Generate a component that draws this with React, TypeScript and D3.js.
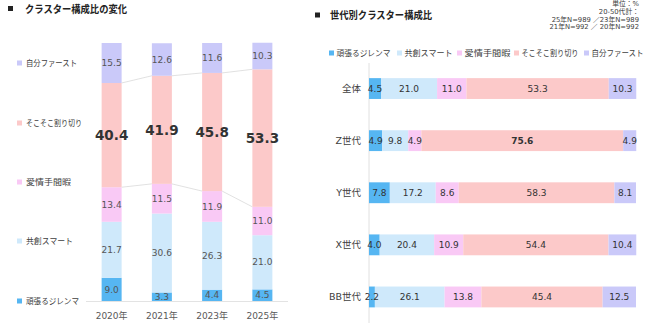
import React from 'react';
import * as d3 from 'd3';

// cluster order: bottom → top (left chart), left → right (right chart)
const clusters = ['頑張るジレンマ', '共創スマート', '愛情手間暇', 'そこそこ割り切り', '自分ファースト'];
const clusterColors = ['#56b6f2', '#cfe9fb', '#f9c9f5', '#fcc9c9', '#cac9f9'];

const years = ['2020年', '2021年', '2023年', '2025年'];
const yearValues = [
  [9.0, 21.7, 13.4, 40.4, 15.5],
  [3.3, 30.6, 11.5, 41.9, 12.6],
  [4.4, 26.3, 11.9, 45.8, 11.6],
  [4.5, 21.0, 11.0, 53.3, 10.3],
];

const generations = ['全体', 'Z世代', 'Y世代', 'X世代', 'BB世代'];
const generationValues = [
  [4.5, 21.0, 11.0, 53.3, 10.3],
  [4.9, 9.8, 4.9, 75.6, 4.9],
  [7.8, 17.2, 8.6, 58.3, 8.1],
  [4.0, 20.4, 10.9, 54.4, 10.4],
  [2.2, 26.1, 13.8, 45.4, 12.5],
];

const noteLines = ['単位：%', '20-50代計：', '25年N=989 ／23年N=989', '21年N=992 ／ 20年N=992'];

const numFont = 'Verdana, "DejaVu Sans", "Noto Sans CJK JP", sans-serif';
const jpFont = '"Noto Sans CJK JP", "Noto Sans", sans-serif';

const W = 650;
const H = 333;

// rendered width of each legend label (narrow UI font look)
const legendTextW = [54, 48, 46, 57, 52];

function stackRow(vals: number[]) {
  let acc = 0;
  return vals.map((v, i) => {
    const s = { i, v, y0: acc, y1: acc + v };
    acc += v;
    return s;
  });
}

function LeftChart() {
  const x = d3.scalePoint<string>().domain(years).range([86.5, 287.5]).padding(0.5);
  const y = d3.scaleLinear().domain([0, 100]).range([301, 43]);
  const bw = 20;
  const stacks = yearValues.map(stackRow);

  // connector lines at the top of 愛情手間暇 and そこそこ割り切り
  const connectors: { x1: number; y1: number; x2: number; y2: number }[] = [];
  for (let k = 0; k < years.length - 1; k++) {
    [2, 3].forEach((level) => {
      connectors.push({
        x1: x(years[k])! + bw / 2,
        y1: y(stacks[k][level].y1),
        x2: x(years[k + 1])! - bw / 2,
        y2: y(stacks[k + 1][level].y1),
      });
    });
  }

  const legendY = [301, 241, 182, 123, 63];

  return (
    <g>
      <rect x={8} y={6} width={5} height={5} fill="#222" />
      <text x={25} y={12.5} fontSize={10.5} fontWeight="bold" fontFamily={jpFont} fill="#222"
        textLength={102} lengthAdjust="spacingAndGlyphs">
        クラスター構成比の変化
      </text>

      {clusters.map((c, i) => (
        <g key={c}>
          <rect x={17} y={legendY[i] - 2.5} width={5} height={5} fill={clusterColors[i]} />
          <text x={26} y={legendY[i]} dy="0.35em" fontSize={8.5} fontFamily={jpFont} fill="#404040"
            textLength={legendTextW[i] - 1} lengthAdjust="spacingAndGlyphs">
            {c}
          </text>
        </g>
      ))}

      <line x1={86} x2={288} y1={301.5} y2={301.5} stroke="#e3e3e3" strokeWidth={1} />

      {connectors.map((l, i) => (
        <line key={i} x1={l.x1} y1={l.y1} x2={l.x2} y2={l.y2} stroke="#d9d9d9" strokeWidth={0.8} />
      ))}

      {years.map((yr, k) => (
        <g key={yr}>
          {stacks[k].map((s) => (
            <rect
              key={s.i}
              x={x(yr)! - bw / 2}
              y={y(s.y1)}
              width={bw}
              height={y(s.y0) - y(s.y1)}
              fill={clusterColors[s.i]}
            />
          ))}
          {stacks[k].map((s) => {
            const big = s.i === 3;
            return (
              <text
                key={`t${s.i}`}
                x={x(yr)!}
                y={y((s.y0 + s.y1) / 2)}
                dy="0.35em"
                textAnchor="middle"
                fontSize={big ? 13.5 : 9}
                fontWeight={big ? 'bold' : 'normal'}
                fontFamily={numFont}
                fill={big ? '#333' : '#555'}
              >
                {s.v.toFixed(1)}
              </text>
            );
          })}
          <text x={x(yr)!} y={316} dy="0.35em" textAnchor="middle" fontSize={9} fontFamily={numFont} fill="#595959">
            {yr}
          </text>
        </g>
      ))}
    </g>
  );
}

function RightChart() {
  const x = d3.scaleLinear().domain([0, 100]).range([369, 636]);
  const y = d3.scaleBand<string>().domain(generations).range([62.5, 323]).paddingInner(0.6).paddingOuter(0.3);
  const stacks = generationValues.map(stackRow);

  const legendX = [329, 397, 457, 514, 584];

  return (
    <g>
      <rect x={315} y={12.5} width={5} height={5} fill="#222" />
      <text x={330} y={19} fontSize={10.5} fontWeight="bold" fontFamily={jpFont} fill="#222"
        textLength={102} lengthAdjust="spacingAndGlyphs">
        世代別クラスター構成比
      </text>

      {noteLines.map((t, i) => (
        <text key={i} x={639} y={4 + i * 7.6} dy="0.35em" textAnchor="end" fontSize={6.8} fontFamily={numFont} fill="#404040">
          {t}
        </text>
      ))}

      {clusters.map((c, i) => (
        <g key={c}>
          <rect x={legendX[i]} y={50.5} width={5} height={5} fill={clusterColors[i]} />
          <text x={legendX[i] + 7.5} y={53} dy="0.35em" fontSize={8.5} fontFamily={jpFont} fill="#404040"
            textLength={legendTextW[i]} lengthAdjust="spacingAndGlyphs">
            {c}
          </text>
        </g>
      ))}

      <line x1={369} x2={369} y1={63} y2={323} stroke="#e0e0e0" strokeWidth={1} />

      {generations.map((g, k) => {
        const by = y(g)!;
        const bh = y.bandwidth();
        return (
          <g key={g}>
            <text x={361} y={by + bh / 2} dy="0.35em" textAnchor="end" fontSize={9.5} fontFamily={numFont} fill="#404040">
              {g}
            </text>
            {stacks[k].map((s) => (
              <rect
                key={s.i}
                x={x(s.y0)}
                y={by}
                width={x(s.y1) - x(s.y0)}
                height={bh}
                fill={clusterColors[s.i]}
              />
            ))}
            {stacks[k].map((s) => (
              <text
                key={`t${s.i}`}
                x={(x(s.y0) + x(s.y1)) / 2}
                y={by + bh / 2}
                dy="0.35em"
                textAnchor="middle"
                fontSize={9}
                fontWeight={s.v > 70 ? 'bold' : 'normal'}
                fontFamily={numFont}
                fill="#333"
              >
                {s.v.toFixed(1)}
              </text>
            ))}
          </g>
        );
      })}
    </g>
  );
}

export default function App() {
  return (
    <svg width={W} height={H} style={{ position: 'absolute', left: 0, top: 0, background: '#fff' }}>
      <rect width={W} height={H} fill="#fff" />
      <LeftChart />
      <RightChart />
    </svg>
  );
}
